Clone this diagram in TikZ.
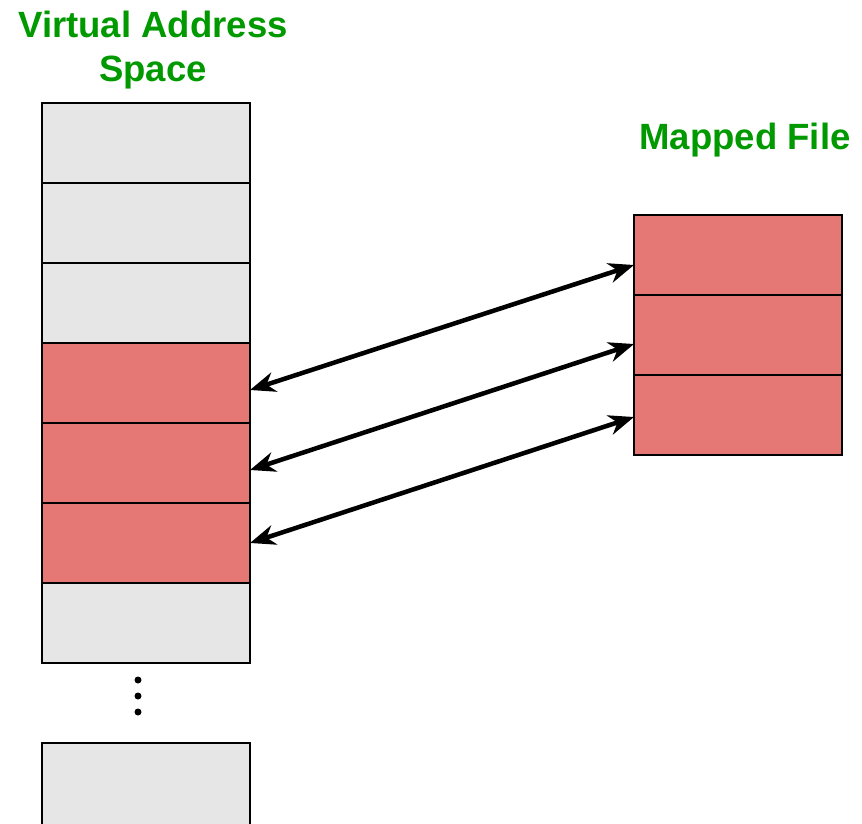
\documentclass[tikz,border=0pt]{standalone}
\usepackage{fontspec}
\setmainfont{Liberation Sans}
\usetikzlibrary{positioning,arrows.meta}

\definecolor{titlegreen}{RGB}{0,153,0}
\definecolor{cellred}{RGB}{229,120,116}
\definecolor{cellgrey}{RGB}{230,230,230}

\tikzset{
	cell/.style={draw, line width=1.5pt, minimum width=156pt, minimum height=60pt, inner sep=0pt, outer sep=0pt},
	freecell/.style={cell, fill=cellgrey},
	mapcell/.style={cell, fill=cellred},
	areatitle/.style={text=titlegreen, font=\fontsize{27.4}{33}\selectfont\bfseries, align=center},
	maplink/.style={line width=3.4pt, {Stealth[length=19pt,width=15pt,inset=6pt]}-{Stealth[length=19pt,width=15pt,inset=6pt]}}}

\begin{document}
\begin{tikzpicture}[x=0.75pt,y=0.75pt,yscale=-1,xscale=1]
	\useasboundingbox (0,0) rectangle (862,823);
	\clip (0,0) rectangle (862,823);

	% Virtual address space column
	\node[freecell] (v1) at (146,143) {};
	\node[freecell, below=0pt of v1] (v2) {};
	\node[freecell, below=0pt of v2] (v3) {};
	\node[mapcell, below=0pt of v3] (v4) {};
	\node[mapcell, below=0pt of v4] (v5) {};
	\node[mapcell, below=0pt of v5] (v6) {};
	\node[freecell, below=0pt of v6] (v7) {};
	\node[freecell, below=60pt of v7, minimum height=63pt] (v8) {};

	% dots between the cells
	\fill (138,680) circle (3.5);
	\fill (138,696) circle (3.5);
	\fill (138,712) circle (3.5);

	% Mapped file column
	\node[mapcell] (f1) at (738,255) {};
	\node[mapcell, below=0pt of f1] (f2) {};
	\node[mapcell, below=0pt of f2] (f3) {};

	% Text Node
	\node[areatitle] (vastitle) at (153,50) {Virtual Address\\Space};
	% Text Node
	\node[areatitle] (filetitle) at (745,140) {Mapped File};

	% mappings
	\draw[maplink] ([yshift=5.25pt]v4.east) -- ([yshift=7.5pt]f1.west);
	\draw[maplink] ([yshift=5.25pt]v5.east) -- ([yshift=6.75pt]f2.west);
	\draw[maplink] (v6.east) -- ([yshift=1.5pt]f3.west);

\end{tikzpicture}
\end{document}
